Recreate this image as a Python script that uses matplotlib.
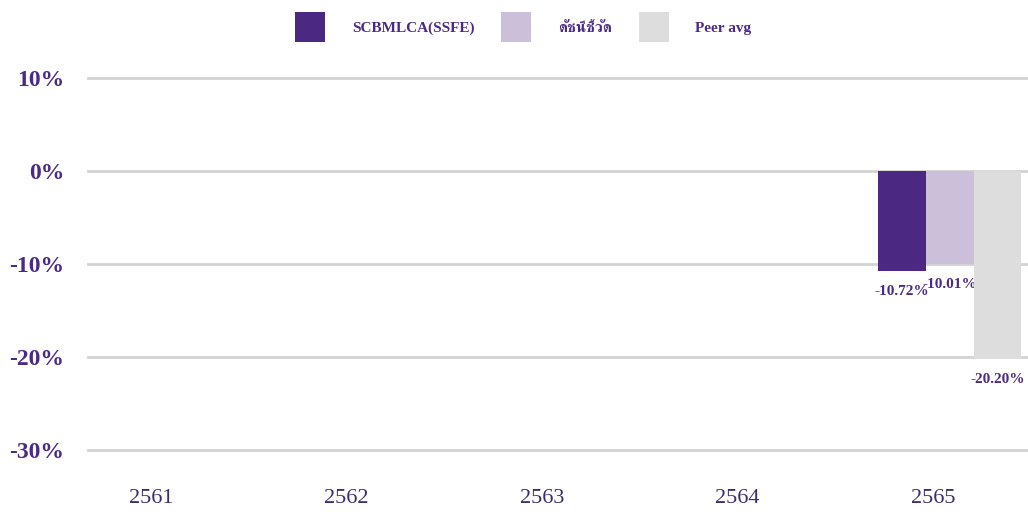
import matplotlib.pyplot as plt

years = ['2561', '2562', '2563', '2564', '2565']
series_names = ['SCBMLCA(SSFE)', 'ดัชนีชี้วัด', 'Peer avg']
# only 2565 has values
fund = [None, None, None, None, -10.72]
benchmark = [None, None, None, None, -10.01]
peer = [None, None, None, None, -20.20]
y_ticks = [10, 0, -10, -20, -30]

colors = ['#4b2882', '#cbbfd9', '#dddddd']
purple = '#4b2a84'
serif = ['Liberation Serif', 'FreeSerif', 'Noto Serif Thai', 'DejaVu Sans']

fig = plt.figure(figsize=(10.28, 5.16), dpi=100)
ax = fig.add_axes([88 / 1028, 1 - 450 / 516, 940 / 1028, 372 / 516])

w = 0.245
shift = 0.085
for k, (vals, c, name) in enumerate(zip([fund, benchmark, peer], colors, series_names)):
    xs = [i + shift + (k - 1) * w for i, v in enumerate(vals) if v is not None]
    ys = [v for v in vals if v is not None]
    bars = ax.bar(xs, ys, width=w, color=c, label=name, zorder=3)
    for b, v in zip(bars, ys):
        ax.annotate('%.2f%%' % v, (b.get_x() + b.get_width() / 2, v), xytext=(0, -10),
                    textcoords='offset points', ha='center', va='top',
                    fontsize=11, fontweight='bold', color=purple, family=serif)

ax.set_xlim(-0.322, 4.486)
ax.set_ylim(-30, 10)
ax.set_xticks(range(len(years)))
ax.set_xticklabels(years, family=serif, fontsize=16, color='#3d2b6b')
ax.set_yticks(y_ticks)
ax.set_yticklabels(['%d%%' % t for t in y_ticks], family=serif, fontsize=17,
                   fontweight='bold', color=purple)
ax.tick_params(axis='both', length=0)
ax.tick_params(axis='y', pad=17)
ax.tick_params(axis='x', pad=28)
ax.grid(axis='y', color='#d3d3d3', linewidth=2, zorder=0)
for line in ax.get_ygridlines():
    line.set_clip_on(False)
for s in ax.spines.values():
    s.set_visible(False)

leg = fig.legend(loc='center', bbox_to_anchor=(523.5 / 1028, 1 - 27 / 516), ncol=3, frameon=False,
                 handlelength=1.96, handleheight=2.65, handletextpad=1.75, columnspacing=1.75,
                 prop={'family': serif, 'size': 11, 'weight': 'bold'})
for t in leg.get_texts():
    t.set_color(purple)

fig.savefig('out.png', dpi=100)
